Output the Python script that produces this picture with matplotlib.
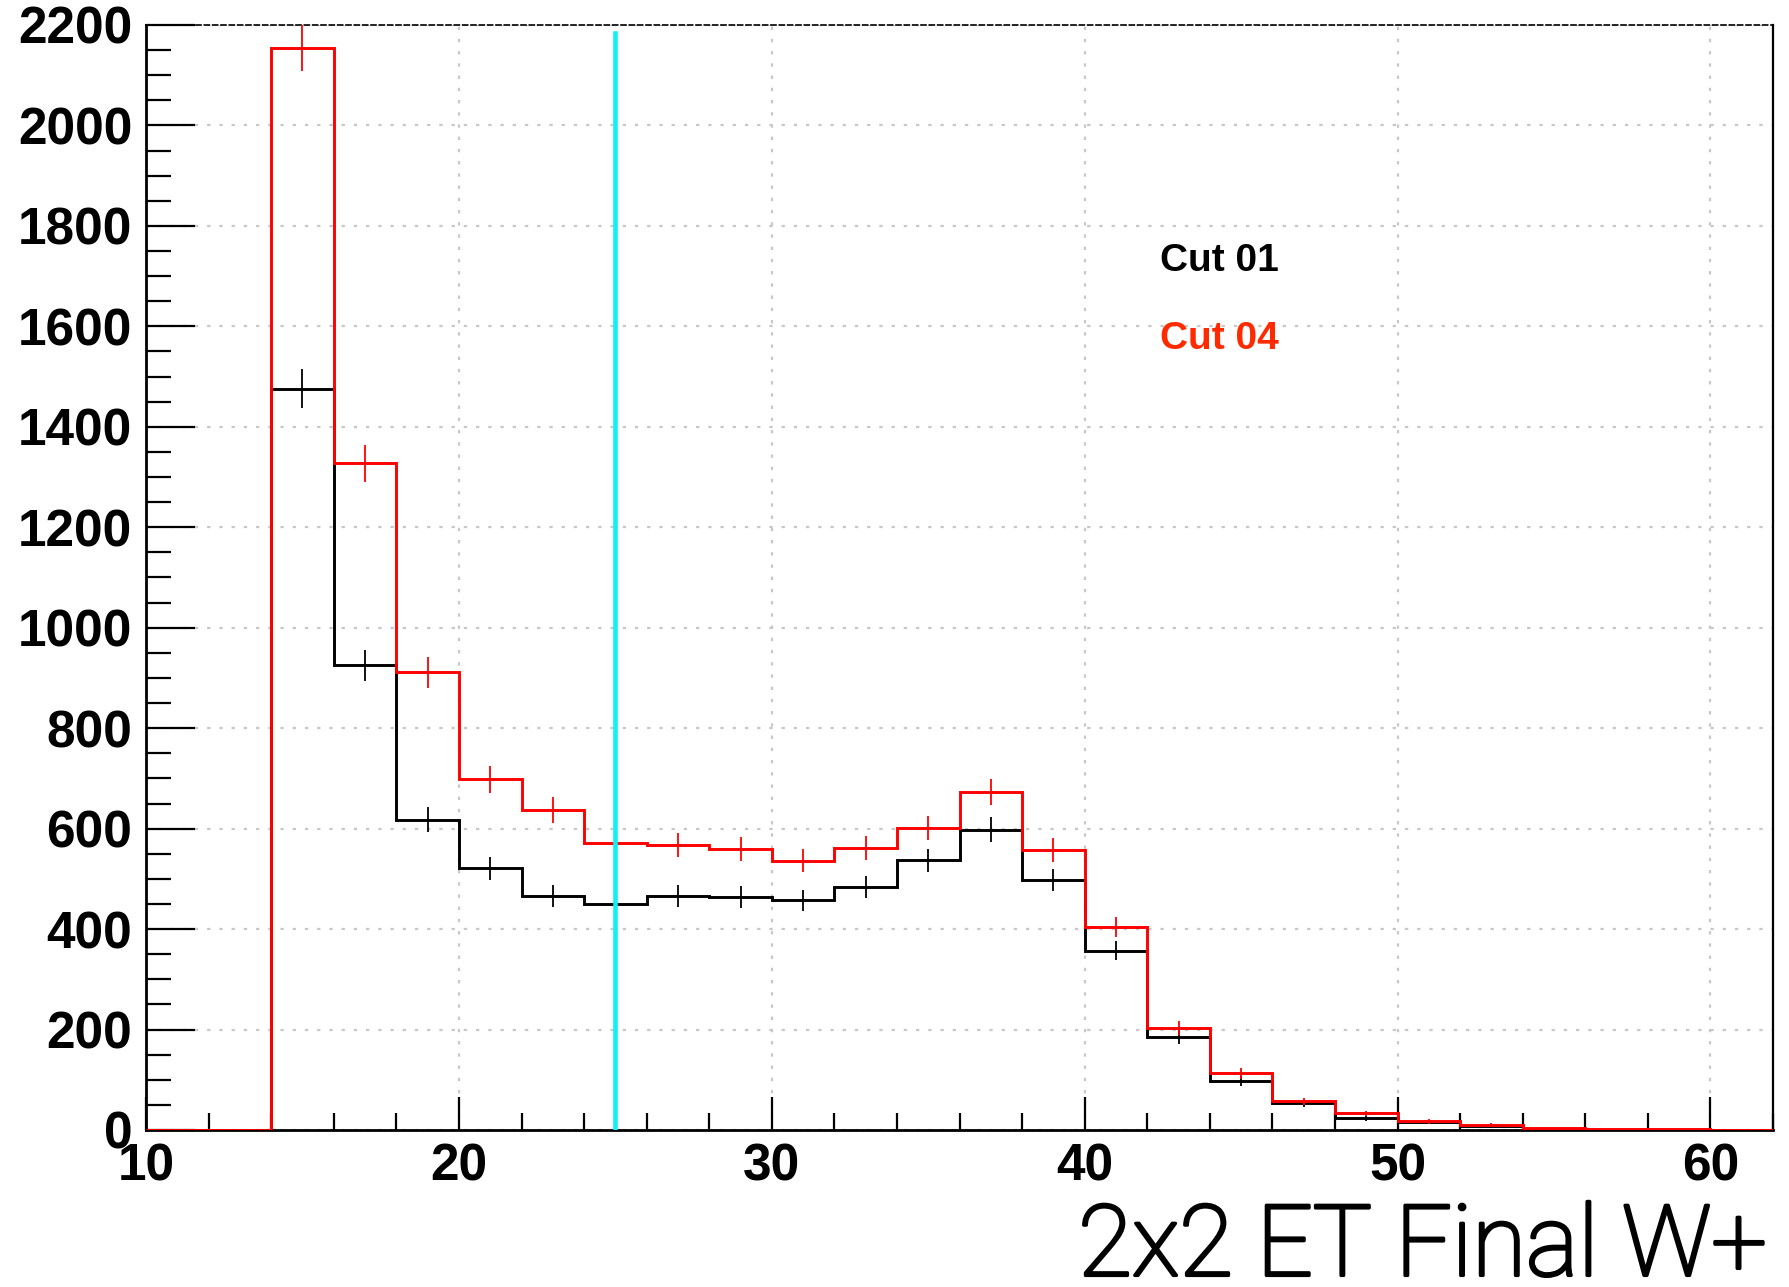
import matplotlib
matplotlib.use('Agg')
import matplotlib.pyplot as plt
import matplotlib.patheffects as pe
from matplotlib.ticker import MultipleLocator
import numpy as np

# bins of 2 GeV from 10 to 62
edges = np.arange(10, 64, 2)
cut01 = [0, 0, 1476, 925, 618, 521, 466, 450, 466, 464, 457, 484, 537,
         598, 498, 357, 185, 98, 53, 23, 15, 7, 1, 0, 0, 0]
cut04 = [0, 0, 2154, 1327, 911, 698, 637, 571, 568, 560, 536, 562, 601,
         673, 557, 404, 203, 113, 57, 33, 17, 10, 3, 1, 1, 0]
cut_x = 25
labels = ['Cut 01', 'Cut 04']

fig = plt.figure(figsize=(17.9, 12.87), dpi=100)
ax = fig.add_axes([0.0816, 0.122, 0.9089, 0.8586])
ax.set_xlim(10, 62)
ax.set_ylim(0, 2200)

# grid
ax.grid(True, which='major', color='#c8c8c8', linestyle=(0, (1.5, 4)), linewidth=1.6)
ax.set_axisbelow(True)

centers = 0.5 * (edges[:-1] + edges[1:])
c1 = np.array(cut01, dtype=float)
c4 = np.array(cut04, dtype=float)

# histograms with sqrt(N) errors
ax.stairs(c1, edges, color='black', linewidth=2.1, zorder=3)
m1 = c1 > 0
ax.errorbar(centers[m1], c1[m1], yerr=np.sqrt(c1[m1]), fmt='none', ecolor='black',
            elinewidth=1.3, capsize=0, zorder=3)
ax.stairs(c4, edges, color='#ff0000', linewidth=2.1, zorder=4)
m4 = c4 > 0
ax.errorbar(centers[m4], c4[m4], yerr=np.sqrt(c4[m4]), fmt='none', ecolor='#ff0000',
            elinewidth=1.3, capsize=0, zorder=4)

# cut line
ax.plot([cut_x, cut_x], [0, 2185], color='#10f0f8', linewidth=3.3, zorder=5)

ax.text(42.4, 1711, labels[0], color='black', fontsize=28, fontweight='bold',
        family='Liberation Sans')
ax.text(42.4, 1554, labels[1], color='#ff2a00', fontsize=28, fontweight='bold',
        family='Liberation Sans')

# axes
ax.xaxis.set_major_locator(MultipleLocator(10))
ax.xaxis.set_minor_locator(MultipleLocator(2))
ax.yaxis.set_major_locator(MultipleLocator(200))
ax.yaxis.set_minor_locator(MultipleLocator(50))
ax.tick_params(axis='both', which='both', direction='in', width=1.6, color='black')
ax.tick_params(axis='y', which='major', length=35, pad=10)
ax.tick_params(axis='y', which='minor', length=18)
ax.tick_params(axis='x', which='major', length=24, pad=9)
ax.tick_params(axis='x', which='minor', length=12)
for lab in ax.get_xticklabels() + ax.get_yticklabels():
    lab.set_fontfamily('Liberation Sans')
    lab.set_fontweight('bold')
    lab.set_fontsize(37)

ax.spines['left'].set_linewidth(2)
ax.spines['bottom'].set_linewidth(2)
ax.spines['right'].set_linewidth(1.6)
ax.spines['top'].set_linewidth(1.2)
ax.spines['top'].set_linestyle((0, (3, 2)))

# thin title font, thickened a little with a stroke
fig.text(0.987, 0.009, '2x2 ET Final W+', ha='right', va='baseline',
         fontsize=71, family='Roboto', fontweight='light',
         path_effects=[pe.withStroke(linewidth=2.4, foreground='black')])

fig.savefig('out.png', dpi=100)
